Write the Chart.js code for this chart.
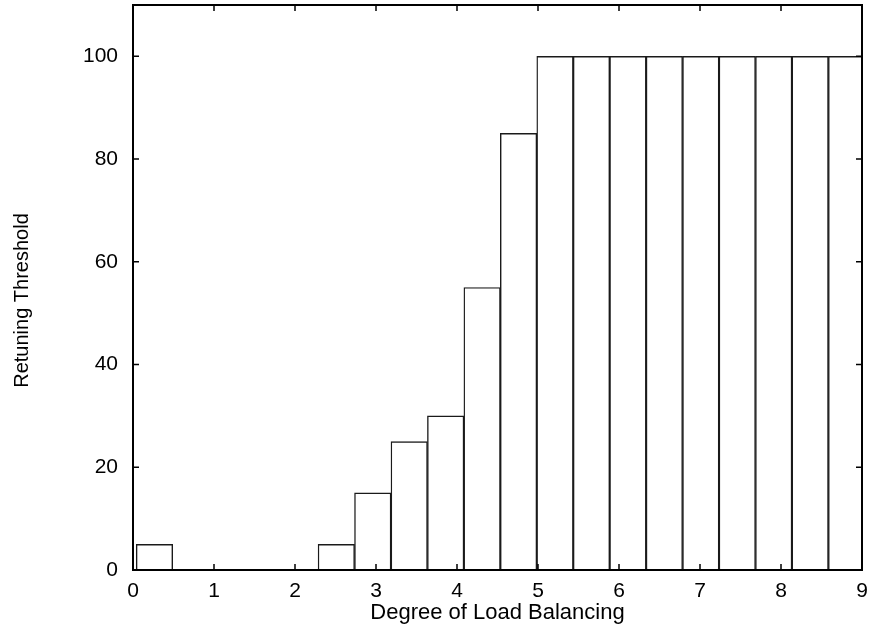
<!DOCTYPE html>
<html lang="en">
<head>
    <meta charset="UTF-8">
    <title>Retuning Threshold</title>
    <script src="https://cdn.jsdelivr.net/npm/chart.js"></script>
    <style>
        html, body {
            margin: 0;
            padding: 0;
            background: #ffffff;
        }
        canvas {
            display: block;
        }
    </style>
</head>
<body>
    <canvas id="thresholdChart" width="869" height="630"></canvas>

    <script>
        // bin centres (degree of load balancing) and threshold per bin
        const degree = [0.265, 2.51, 2.96, 3.41, 3.86, 4.31, 4.76, 5.21, 5.66, 6.11, 6.56, 7.01, 7.46, 7.91, 8.36, 8.81];
        const threshold = [5, 5, 15, 25, 30, 55, 85, 100, 100, 100, 100, 100, 100, 100, 100, 100];

        const xTicks = [0, 1, 2, 3, 4, 5, 6, 7, 8, 9];
        const yTicks = [0, 20, 40, 60, 80, 100];

        const fontFamily = "'Liberation Sans', Arial, sans-serif";
        const labelFont = { family: fontFamily, size: 21 };

        // frame round the plot plus short inward tick marks on all four sides
        const framePlugin = {
            id: 'frame',
            afterDatasetsDraw(chart) {
                const { ctx, chartArea: a, scales } = chart;
                const len = 6;
                ctx.save();
                ctx.strokeStyle = '#000';
                ctx.lineWidth = 1.5;
                ctx.beginPath();
                xTicks.forEach(v => {
                    const px = scales.x.getPixelForValue(v);
                    ctx.moveTo(px, a.bottom);
                    ctx.lineTo(px, a.bottom - len);
                    ctx.moveTo(px, a.top);
                    ctx.lineTo(px, a.top + len);
                });
                yTicks.forEach(v => {
                    const py = scales.y.getPixelForValue(v);
                    ctx.moveTo(a.left, py);
                    ctx.lineTo(a.left + len, py);
                    ctx.moveTo(a.right, py);
                    ctx.lineTo(a.right - len, py);
                });
                ctx.stroke();
                ctx.lineWidth = 2;
                ctx.strokeRect(a.left, a.top, a.right - a.left, a.bottom - a.top);
                ctx.restore();
            }
        };

        // vertical axis title, sitting a bit below the middle of the plot
        const yTitlePlugin = {
            id: 'yTitle',
            afterDraw(chart) {
                const { ctx, chartArea: a } = chart;
                ctx.save();
                ctx.translate(22, (a.top + a.bottom) / 2 + 13);
                ctx.rotate(-Math.PI / 2);
                ctx.font = `20px ${fontFamily}`;
                ctx.fillStyle = '#000';
                ctx.textAlign = 'center';
                ctx.textBaseline = 'middle';
                ctx.fillText('Retuning Threshold', 0, 0);
                ctx.restore();
            }
        };

        new Chart(document.getElementById('thresholdChart'), {
            type: 'bar',
            data: {
                datasets: [{
                    data: degree.map((x, i) => ({ x: x, y: threshold[i] })),
                    backgroundColor: '#ffffff',
                    borderColor: '#1a1a1a',
                    borderWidth: 1.4,
                    borderSkipped: false,
                    barPercentage: 1.0,
                    categoryPercentage: 1.0
                }]
            },
            options: {
                responsive: false,
                animation: false,
                layout: {
                    padding: { top: 5, right: 7, left: 0, bottom: 0 }
                },
                plugins: {
                    legend: { display: false },
                    tooltip: { enabled: false }
                },
                scales: {
                    x: {
                        type: 'linear',
                        min: 0,
                        max: 9,
                        offset: false,
                        grid: { display: false, drawTicks: false, offset: false },
                        border: { display: false },
                        ticks: {
                            stepSize: 1,
                            padding: 9,
                            color: '#000',
                            font: labelFont,
                            maxRotation: 0
                        },
                        title: {
                            display: true,
                            text: 'Degree of Load Balancing',
                            color: '#000',
                            font: { family: fontFamily, size: 22 },
                            padding: { top: 0, bottom: 4 }
                        },
                        afterFit(scale) {
                            scale.height = 60;
                            scale.paddingLeft = 0;
                            scale.paddingRight = 0;
                        }
                    },
                    y: {
                        min: 0,
                        max: 110,
                        grid: { display: false, drawTicks: false },
                        border: { display: false },
                        ticks: {
                            stepSize: 20,
                            includeBounds: false,
                            padding: 15,
                            color: '#000',
                            font: labelFont
                        },
                        afterFit(scale) {
                            scale.width = 133;
                            scale.paddingTop = 0;
                            scale.paddingBottom = 0;
                        }
                    }
                }
            },
            plugins: [framePlugin, yTitlePlugin]
        });
    </script>
</body>
</html>
